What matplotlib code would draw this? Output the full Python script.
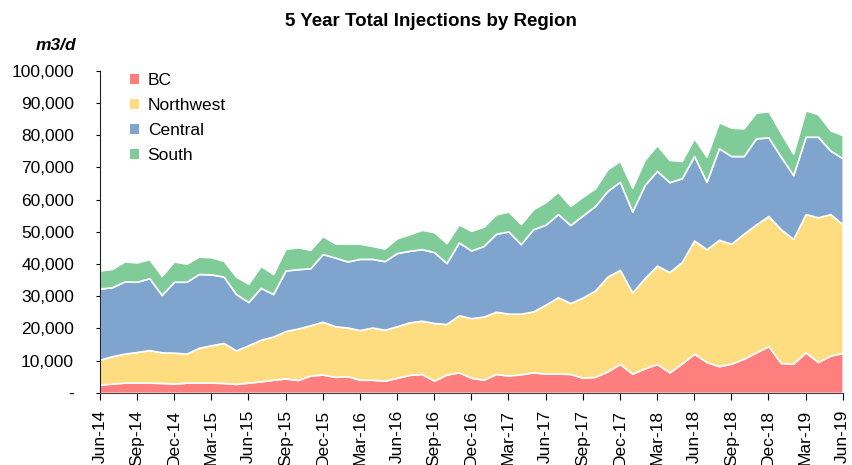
import numpy as np
import pandas as pd
import matplotlib
matplotlib.use('Agg')
import matplotlib.pyplot as plt
from matplotlib.patches import Patch
from matplotlib.ticker import FuncFormatter

plt.rcParams['font.family'] = ['Liberation Sans', 'DejaVu Sans']

# monthly, Jun-14 .. Jun-19 (m3/d)
months = pd.date_range('2014-06-01', '2019-06-01', freq='MS')

bc = [2.6, 2.9, 3.2, 3.2, 3.2, 3.1, 2.9, 3.2, 3.2, 3.2, 3.1, 2.8, 3.2, 3.6, 4.1,
      4.5, 4.0, 5.4, 5.7, 5.0, 5.2, 4.1, 4.1, 3.8, 4.7, 5.6, 5.9, 3.8, 5.7, 6.4,
      4.7, 4.1, 5.9, 5.4, 5.8, 6.4, 6.0, 6.0, 5.9, 4.7, 5.0, 6.7, 9.0, 6.0, 7.6,
      9.0, 6.4, 9.1, 12.2, 9.6, 8.3, 9.1, 10.6, 12.6, 14.5, 9.3, 9.1, 12.6, 9.6,
      11.6, 12.4]
northwest = [7.7, 8.5, 9.0, 9.5, 10.1, 9.5, 9.6, 9.0, 10.8, 11.6, 12.4, 10.4, 11.6,
             12.9, 13.4, 14.7, 16.0, 15.6, 16.4, 15.7, 15.1, 15.4, 16.2, 15.8, 16.0,
             16.3, 16.5, 17.9, 15.7, 17.7, 18.5, 19.6, 19.3, 19.2, 18.8, 18.9, 21.4,
             23.7, 22.0, 24.9, 26.8, 29.4, 29.2, 25.2, 28.0, 30.5, 31.1, 31.5, 35.1,
             35.0, 39.2, 37.2, 38.8, 39.7, 40.4, 41.5, 38.7, 42.9, 44.9, 43.9, 39.9]
central = [22.1, 21.4, 22.4, 21.8, 22.3, 17.8, 22.0, 22.3, 22.9, 22.0, 20.6, 17.5,
           13.4, 16.1, 13.2, 18.8, 18.4, 17.7, 21.0, 21.3, 20.5, 22.1, 21.3, 21.3,
           22.7, 22.2, 22.2, 22.0, 18.9, 22.6, 21.0, 21.9, 24.2, 25.5, 21.6, 25.5,
           24.8, 25.8, 24.2, 25.5, 26.2, 26.6, 27.3, 25.1, 28.9, 29.4, 27.9, 26.0,
           26.2, 20.9, 28.4, 27.2, 24.1, 26.7, 24.4, 22.5, 19.8, 24.0, 25.0, 19.7, 20.5]
south = [5.6, 5.7, 6.2, 6.0, 5.9, 5.9, 6.3, 5.6, 5.4, 5.3, 4.9, 5.4, 5.7, 6.8, 6.2,
         6.7, 6.8, 5.7, 5.6, 4.4, 5.5, 4.7, 4.0, 3.9, 4.6, 5.1, 6.0, 6.2, 6.2, 5.6,
         6.1, 6.0, 6.0, 6.2, 6.2, 6.2, 7.0, 6.9, 5.9, 5.8, 5.5, 6.7, 6.5, 7.4, 7.8,
         8.0, 6.9, 5.4, 5.5, 7.8, 8.1, 8.8, 8.6, 8.0, 8.1, 7.4, 6.7, 8.2, 7.0, 6.3, 7.2]

names = ['BC', 'Northwest', 'Central', 'South']
colors = ['#ff7f7f', '#fedc80', '#7fa4cd', '#7fcc98']

x = np.arange(len(months))
series = [np.array(s) * 1000 for s in (bc, northwest, central, south)]

fig = plt.figure(figsize=(8.53, 4.65), dpi=100)
ax = fig.add_axes([0.117, 0.155, 0.871, 0.693])

ax.stackplot(x, *series, colors=colors, edgecolor='white', linewidth=1.2)

ax.set_xlim(0, len(months) - 1)
ax.set_ylim(0, 100000)
ax.set_yticks(np.arange(0, 100001, 10000))
ax.yaxis.set_major_formatter(FuncFormatter(lambda v, p: '-' if v == 0 else f'{int(v):,}'))
ax.set_xticks(x[::3])
ax.set_xticklabels([m.strftime('%b-%y') for m in months[::3]], rotation=90)

for s in ['top', 'right']:
    ax.spines[s].set_visible(False)
ax.spines['left'].set_color('#222222')
ax.spines['bottom'].set_color('#444444')
ax.tick_params(axis='y', labelsize=12.5, length=3, pad=15.5)
ax.tick_params(axis='x', labelsize=12.5, length=5, pad=7)

handles = [Patch(facecolor=c, edgecolor='none', label=n) for c, n in zip(colors, names)]
ax.legend(handles=handles, loc='upper left', bbox_to_anchor=(0.02, 1.04), frameon=False,
          fontsize=12.5, handlelength=0.5, handleheight=0.5, handletextpad=0.5,
          labelspacing=0.57)

fig.text(0.505, 0.953, '5 Year Total Injections by Region', ha='center', va='center',
         fontsize=13.5, fontweight='bold')
fig.text(0.089, 0.903, 'm3/d', ha='right', va='center', fontsize=12.5,
         fontweight='bold', fontstyle='italic')

fig.savefig('out.png', dpi=100)
